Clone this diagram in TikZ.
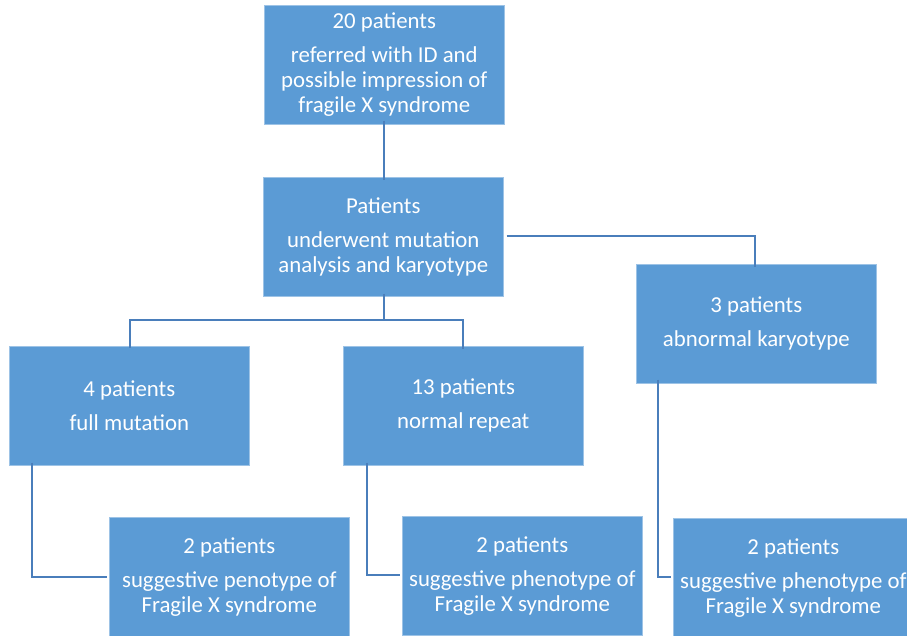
\documentclass[tikz,border=0pt]{standalone}
\usepackage{fontspec}
\setmainfont{Carlito}
\definecolor{boxfill}{HTML}{5B9BD5}
\definecolor{boxedge}{HTML}{9DC3E6}
\definecolor{linkcol}{HTML}{4A7EBB}
\begin{document}
\begin{tikzpicture}[x=1pt,y=-1pt,
  box/.style={rectangle, anchor=north west, fill=boxfill, draw=boxedge, line width=0.6pt,
    minimum width=240pt, minimum height=119pt, inner sep=0pt, align=center,
    text=white, font=\fontsize{22.8}{25}\selectfont},
  link/.style={draw=linkcol, line width=2pt}]
\useasboundingbox (0,0) rectangle (907,635);
\clip (0,0) rectangle (907,635);
\node[box] (top) at (264,5) {20 patients\\[9pt]referred with ID and\\possible impression of\\fragile X syndrome};
\node[box] (mid) at (263,177) {Patients\\[9pt]underwent mutation\\analysis and karyotype};
\node[box] (abn) at (636,264) {3 patients\\[9pt]abnormal karyotype};
\node[box] (full) at (9,346) {4 patients\\[9pt]full mutation};
\node[box] (norm) at (343,346) {13 patients\\[9pt]normal repeat};
\node[box] (b1) at (109,517) {2 patients\\[9pt]suggestive penotype of\\Fragile X syndrome};
\node[box] (b2) at (402,516) {2 patients\\[9pt]suggestive phenotype of\\Fragile X syndrome};
\node[box] (b3) at (673,518) {2 patients\\[9pt]suggestive phenotype of\\Fragile X syndrome};
% connectors
\coordinate (j1) at (384,320);
\draw[link] ([yshift=4pt]top.south -| 384,0) -- ([yshift=-3pt]mid.north -| 384,0);
\draw[link] ([xshift=3pt,yshift=1pt]mid.east) -| ([yshift=-3pt]abn.north -| 755,0);
\draw[link] ([yshift=3pt]mid.south -| 384,0) -- (j1) -- (130,320) -- ([yshift=-2pt]full.north -| 130,0);
\draw[link] (j1) -- (463,320) -- ([yshift=-3pt]norm.north -| 463,0);
\draw[link] ([yshift=3pt]full.south -| 32,0) |- ([xshift=-2pt]b1.west |- 0,577);
\draw[link] ([yshift=3pt]norm.south -| 367,0) |- ([xshift=-2pt]b2.west |- 0,575);
\draw[link] ([yshift=4pt]abn.south -| 658,0) |- ([xshift=-2pt]b3.west |- 0,577);
\end{tikzpicture}
\end{document}
